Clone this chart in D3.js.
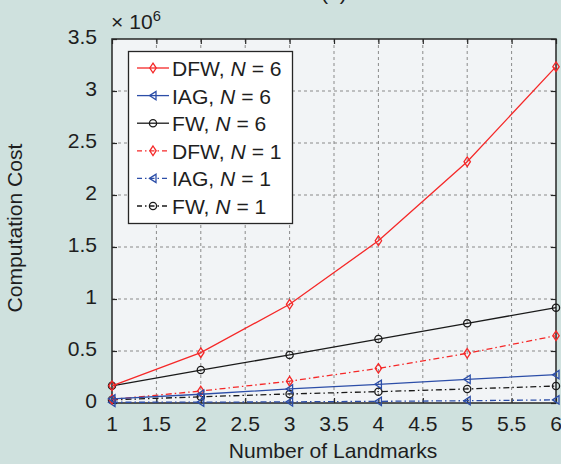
<!DOCTYPE html>
<html><head><meta charset="utf-8">
<script src="https://cdn.jsdelivr.net/npm/d3@7"></script>
<style>
html,body{margin:0;padding:0;background:#cfe1de;}
svg{display:block;}
text{font-family:"Liberation Sans",Arial,sans-serif;fill:#1e1e1e;}
</style></head>
<body>
<script>
// ---- data ----
const landmarks = [1, 2, 3, 4, 5, 6];
const dfwN6 = [0.165, 0.484, 0.949, 1.56, 2.32, 3.234];
const iagN6 = [0.04, 0.084, 0.135, 0.18, 0.228, 0.272];
const fwN6  = [0.165, 0.317, 0.462, 0.615, 0.766, 0.917];
const dfwN1 = [0.035, 0.115, 0.21, 0.333, 0.478, 0.647];
const iagN1 = [0.007, 0.008, 0.011, 0.016, 0.022, 0.03];
const fwN1  = [0.03, 0.06, 0.087, 0.109, 0.135, 0.163];
const xTicks = [1, 1.5, 2, 2.5, 3, 3.5, 4, 4.5, 5, 5.5, 6];
const yTicks = [0, 0.5, 1, 1.5, 2, 2.5, 3, 3.5];
const seriesNames = ["DFW", "IAG", "FW", "DFW", "IAG", "FW"];
const seriesN = [6, 6, 6, 1, 1, 1];

const W = 561, H = 464;
const L = 112, T = 39, R = 556, B = 403;
const SX = 1.055; // horizontal text stretch
const FS = 20;
const RED = "#f52828", BLUE = "#2c4ea8", BLACK = "#1a1a1a";
const DASHDOT = "6,3,1.5,3";

const series = [
  {name: seriesNames[0], n: seriesN[0], vals: dfwN6, color: RED, marker: "diamond", dash: null},
  {name: seriesNames[1], n: seriesN[1], vals: iagN6, color: BLUE, marker: "triangle", dash: null},
  {name: seriesNames[2], n: seriesN[2], vals: fwN6, color: BLACK, marker: "circle", dash: null},
  {name: seriesNames[3], n: seriesN[3], vals: dfwN1, color: RED, marker: "diamond", dash: DASHDOT},
  {name: seriesNames[4], n: seriesN[4], vals: iagN1, color: BLUE, marker: "triangle", dash: DASHDOT},
  {name: seriesNames[5], n: seriesN[5], vals: fwN1, color: BLACK, marker: "circle", dash: DASHDOT}
];

const svg = d3.select("body").append("svg").attr("width", W).attr("height", H);
svg.append("rect").attr("width", W).attr("height", H).attr("fill", "#cfe1de");

const x = d3.scaleLinear().domain([1, 6]).range([L, R]);
const y = d3.scaleLinear().domain([0, 3.5]).range([B, T]);

function stext(g, tx, ty, anchor, size) {
  return g.append("text")
    .attr("transform", `translate(${tx},${ty}) scale(${SX},1)`)
    .attr("text-anchor", anchor).attr("font-size", size);
}

// title (cut off at top, as in the reference)
stext(svg, 334, 0, "middle", FS).text("(a)");

// plot background
svg.append("rect").attr("x", L).attr("y", T).attr("width", R - L).attr("height", B - T).attr("fill", "#f2f4f6");

// grid
const grid = svg.append("g").attr("stroke", "#8a8a8a").attr("stroke-width", 1).attr("stroke-dasharray", "3,3");
grid.selectAll("line.gx").data(xTicks.slice(1, -1)).join("line")
  .attr("x1", d => x(d)).attr("x2", d => x(d)).attr("y1", T).attr("y2", B);
grid.selectAll("line.gy").data(yTicks.slice(1, -1)).join("line")
  .attr("y1", d => y(d)).attr("y2", d => y(d)).attr("x1", L).attr("x2", R);

// axes (ticks inward)
function styleAxis(g) {
  g.select(".domain").remove();
  g.selectAll(".tick line").attr("stroke", "#262626").attr("stroke-width", 1.2);
  g.selectAll(".tick text").remove();
}
svg.append("g").attr("transform", `translate(0,${B})`).call(d3.axisBottom(x).tickValues(xTicks).tickSize(-5)).call(styleAxis);
svg.append("g").attr("transform", `translate(0,${T})`).call(d3.axisTop(x).tickValues(xTicks).tickSize(-5)).call(styleAxis);
svg.append("g").attr("transform", `translate(${L},0)`).call(d3.axisLeft(y).tickValues(yTicks).tickSize(-5)).call(styleAxis);
svg.append("g").attr("transform", `translate(${R},0)`).call(d3.axisRight(y).tickValues(yTicks).tickSize(-5)).call(styleAxis);

// tick labels
const fmt = d => String(d);
xTicks.forEach(v => stext(svg, x(v), 431, "middle", FS).text(fmt(v)));
yTicks.forEach(v => stext(svg, 97, y(v) + 4.5, "end", FS).text(fmt(v)));

// frame
svg.append("rect").attr("x", L).attr("y", T).attr("width", R - L).attr("height", B - T)
  .attr("fill", "none").attr("stroke", "#262626").attr("stroke-width", 1.5);

// exponent label
const ex = stext(svg, 111, 29, "start", FS);
ex.append("tspan").text("× 10");
ex.append("tspan").attr("dy", -8).attr("font-size", 14).text("6");

// axis titles
stext(svg, 333, 458, "middle", FS).text("Number of Landmarks");
svg.append("text").attr("transform", `translate(22,228) rotate(-90) scale(${SX},1)`)
  .attr("text-anchor", "middle").attr("font-size", FS).text("Computation Cost");

// markers
function drawMarker(g, type, cx, cy, color) {
  if (type === "circle") {
    g.append("circle").attr("cx", cx).attr("cy", cy).attr("r", 3.6)
      .attr("fill", "none").attr("stroke", color).attr("stroke-width", 1.3);
  } else if (type === "diamond") {
    g.append("path").attr("d", `M${cx},${cy - 4.8}L${cx + 3.2},${cy}L${cx},${cy + 4.8}L${cx - 3.2},${cy}Z`)
      .attr("fill", "none").attr("stroke", color).attr("stroke-width", 1.3);
  } else {
    g.append("path").attr("d", `M${cx - 3.5},${cy}L${cx + 3},${cy - 4.2}L${cx + 3},${cy + 4.2}Z`)
      .attr("fill", "none").attr("stroke", color).attr("stroke-width", 1.3);
  }
}

const line = d3.line().x((d, i) => x(landmarks[i])).y(d => y(d));
const plot = svg.append("g");
series.slice().reverse().forEach(s => {
  plot.append("path").attr("d", line(s.vals)).attr("fill", "none")
    .attr("stroke", s.color).attr("stroke-width", 1.3)
    .attr("stroke-dasharray", s.dash);
  s.vals.forEach((v, i) => drawMarker(plot, s.marker, x(landmarks[i]), y(v), s.color));
});

// legend
const lg = svg.append("g");
lg.append("rect").attr("x", 128.5).attr("y", 51.5).attr("width", 164).attr("height", 172)
  .attr("fill", "#ffffff").attr("stroke", "#262626").attr("stroke-width", 1.3);
series.forEach((s, i) => {
  const ly = 68 + i * 27.6;
  lg.append("line").attr("x1", 137).attr("x2", 169).attr("y1", ly).attr("y2", ly)
    .attr("stroke", s.color).attr("stroke-width", 1.3).attr("stroke-dasharray", s.dash ? "5,3,1.5,3" : null);
  drawMarker(lg, s.marker, 153, ly, s.color);
  const t = stext(lg, 172, ly + 8, "start", FS);
  t.append("tspan").text(s.name + ", ");
  t.append("tspan").attr("font-style", "italic").text("N");
  t.append("tspan").text(" = " + s.n);
});
</script>
</body></html>
